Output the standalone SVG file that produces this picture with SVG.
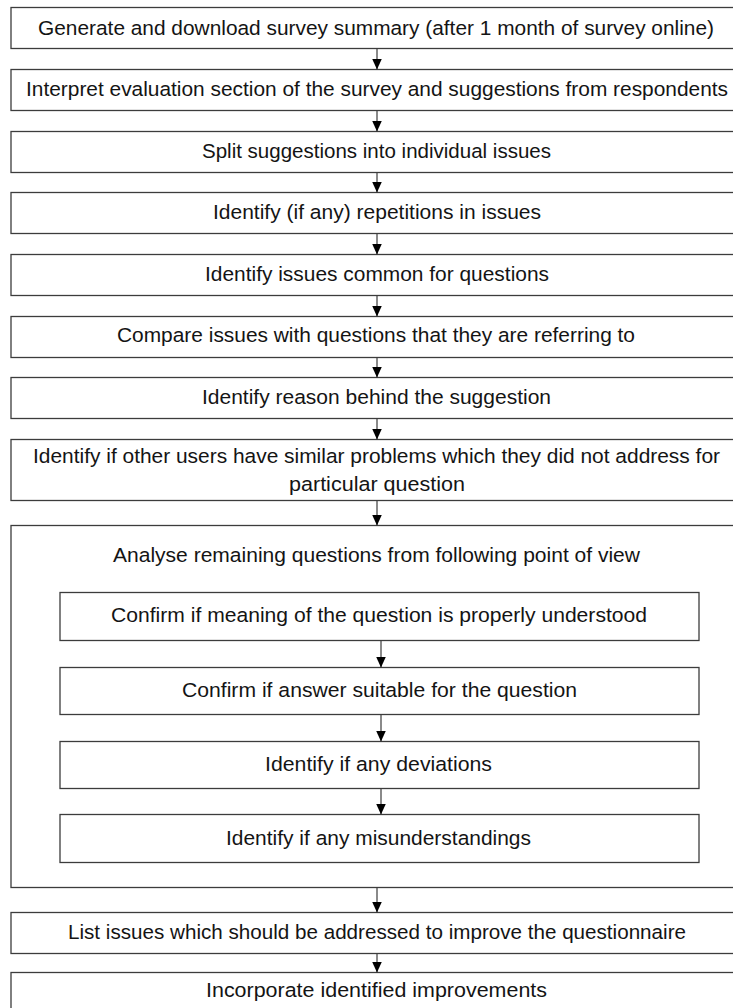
<svg xmlns="http://www.w3.org/2000/svg" width="733" height="1008" viewBox="0 0 733 1008">
  <style>
    .box { fill: #ffffff; stroke: #3c3c3c; stroke-width: 1.3; }
    .lbl { font-family: "Liberation Sans", Arial, sans-serif; font-size: 20.5px; fill: #141414; text-anchor: middle; }
    .conn { stroke: #3c3c3c; stroke-width: 1.2; fill: none; marker-end: url(#arrow); }
  </style>
  <defs>
    <marker id="arrow" markerUnits="userSpaceOnUse" markerWidth="11" markerHeight="10" refX="11" refY="5" orient="auto">
      <path d="M0,0 L11,5 L0,10 z" fill="#000000"/>
    </marker>
  </defs>
  <rect width="733" height="1008" fill="#ffffff"/>

  <g id="n1">
    <rect class="box" x="11" y="7.5" width="732" height="41"/>
    <text class="lbl" x="376" y="35" textLength="676" lengthAdjust="spacingAndGlyphs">Generate and download survey summary (after 1 month of survey online)</text>
  </g>
  <g id="n2">
    <rect class="box" x="11" y="69.5" width="732" height="41"/>
    <text class="lbl" x="377" y="96" textLength="702" lengthAdjust="spacingAndGlyphs">Interpret evaluation section of the survey and suggestions from respondents</text>
  </g>
  <g id="n3">
    <rect class="box" x="11" y="131.5" width="732" height="41"/>
    <text class="lbl" x="376.5" y="158" textLength="349" lengthAdjust="spacingAndGlyphs">Split suggestions into individual issues</text>
  </g>
  <g id="n4">
    <rect class="box" x="11" y="192.5" width="732" height="41"/>
    <text class="lbl" x="377" y="219" textLength="328" lengthAdjust="spacingAndGlyphs">Identify (if any) repetitions in issues</text>
  </g>
  <g id="n5">
    <rect class="box" x="11" y="254.5" width="732" height="41"/>
    <text class="lbl" x="377" y="281" textLength="344" lengthAdjust="spacingAndGlyphs">Identify issues common for questions</text>
  </g>
  <g id="n6">
    <rect class="box" x="11" y="316.5" width="732" height="41"/>
    <text class="lbl" x="376" y="342" textLength="518" lengthAdjust="spacingAndGlyphs">Compare issues with questions that they are referring to</text>
  </g>
  <g id="n7">
    <rect class="box" x="11" y="377.5" width="732" height="41"/>
    <text class="lbl" x="376.5" y="404" textLength="349" lengthAdjust="spacingAndGlyphs">Identify reason behind the suggestion</text>
  </g>
  <g id="n8">
    <rect class="box" x="11" y="439.5" width="732" height="61"/>
    <text class="lbl" x="376.5" y="463" textLength="687" lengthAdjust="spacingAndGlyphs">Identify if other users have similar problems which they did not address for</text>
    <text class="lbl" x="377" y="491" textLength="176" lengthAdjust="spacingAndGlyphs">particular question</text>
  </g>

  <g id="n9">
    <rect class="box" x="11" y="525.5" width="732" height="362"/>
    <text class="lbl" x="376.5" y="562" textLength="527" lengthAdjust="spacingAndGlyphs">Analyse remaining questions from following point of view</text>
  </g>
  <g id="n9a">
    <rect class="box" x="60" y="592.5" width="639" height="48"/>
    <text class="lbl" x="379" y="622" textLength="536" lengthAdjust="spacingAndGlyphs">Confirm if meaning of the question is properly understood</text>
  </g>
  <g id="n9b">
    <rect class="box" x="60" y="667.5" width="639" height="47"/>
    <text class="lbl" x="379.5" y="697" textLength="395" lengthAdjust="spacingAndGlyphs">Confirm if answer suitable for the question</text>
  </g>
  <g id="n9c">
    <rect class="box" x="60" y="741.5" width="639" height="47"/>
    <text class="lbl" x="378.5" y="771" textLength="227" lengthAdjust="spacingAndGlyphs">Identify if any deviations</text>
  </g>
  <g id="n9d">
    <rect class="box" x="60" y="814.5" width="639" height="48"/>
    <text class="lbl" x="378.5" y="845" textLength="305" lengthAdjust="spacingAndGlyphs">Identify if any misunderstandings</text>
  </g>

  <g id="n10">
    <rect class="box" x="11" y="912.5" width="732" height="41"/>
    <text class="lbl" x="377" y="939" textLength="618" lengthAdjust="spacingAndGlyphs">List issues which should be addressed to improve the questionnaire</text>
  </g>
  <g id="n11">
    <rect class="box" x="11" y="972.5" width="732" height="45"/>
    <text class="lbl" x="376.5" y="997" textLength="341" lengthAdjust="spacingAndGlyphs">Incorporate identified improvements</text>
  </g>

  <g id="connectors">
    <line class="conn" x1="377" y1="48.5" x2="377" y2="69.5"/>
    <line class="conn" x1="377" y1="110.5" x2="377" y2="131.5"/>
    <line class="conn" x1="377" y1="172.5" x2="377" y2="192.5"/>
    <line class="conn" x1="377" y1="233.5" x2="377" y2="254.5"/>
    <line class="conn" x1="377" y1="295.5" x2="377" y2="316.5"/>
    <line class="conn" x1="377" y1="357.5" x2="377" y2="377.5"/>
    <line class="conn" x1="377" y1="418.5" x2="377" y2="439.5"/>
    <line class="conn" x1="377" y1="500.5" x2="377" y2="525.5"/>
    <line class="conn" x1="381" y1="640.5" x2="381" y2="667.5"/>
    <line class="conn" x1="381" y1="714.5" x2="381" y2="741.5"/>
    <line class="conn" x1="381" y1="788.5" x2="381" y2="814.5"/>
    <line class="conn" x1="377" y1="887.5" x2="377" y2="912.5"/>
    <line class="conn" x1="377" y1="953.5" x2="377" y2="972.5"/>
  </g>
</svg>
